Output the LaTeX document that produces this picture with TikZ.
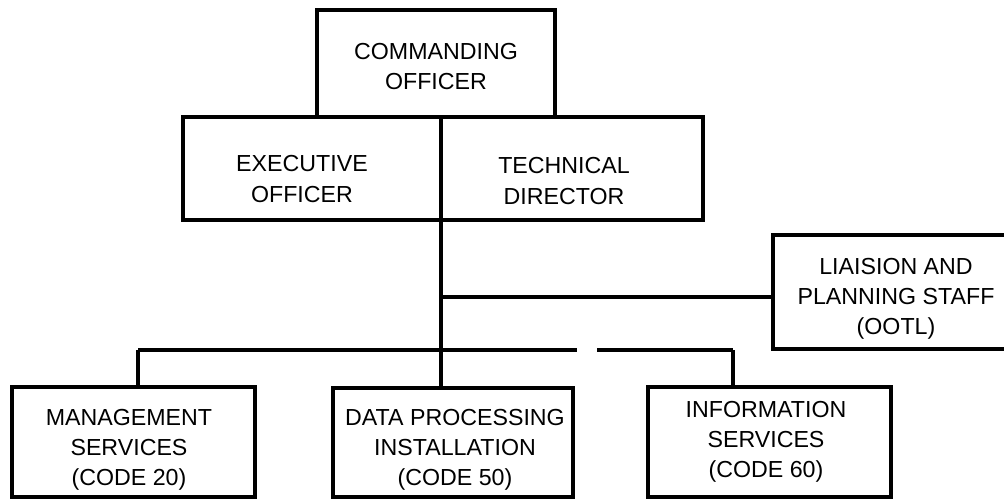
\documentclass[tikz,border=0pt]{standalone}
\usepackage{fontspec}
\setmainfont{Liberation Sans}
\begin{document}
\begin{tikzpicture}[x=0.025cm,y=-0.025cm,
  box/.style={draw=black,line width=2.2pt,rectangle,inner sep=0pt,fill=none},
  txt/.style={inner sep=0pt,align=center,font=\fontsize{16.5}{21.5}\selectfont},
  conn/.style={draw=black,line width=2.2pt}]
\useasboundingbox (0,0) rectangle (1004,500);
\fill[white] (0,0) rectangle (1004,500);
% boxes
\node[box,minimum width=238*0.025cm,minimum height=107*0.025cm] (co) at (436,63.5) {};
\node[box,minimum width=520*0.025cm,minimum height=103*0.025cm] (et) at (443,168.5) {};
\node[box,minimum width=237*0.025cm,minimum height=114*0.025cm] (li) at (891.5,292) {};
\node[box,minimum width=243*0.025cm,minimum height=110*0.025cm] (mg) at (133.5,442) {};
\node[box,minimum width=240*0.025cm,minimum height=109*0.025cm] (dp) at (453,442.5) {};
\node[box,minimum width=243*0.025cm,minimum height=110*0.025cm] (in) at (769.5,442) {};
% texts
\node[txt] (coT) at (436,66.5) {COMMANDING\\OFFICER};
\node[txt] (exT) at (302,179) {EXECUTIVE\\OFFICER};
\node[txt] (tdT) at (564,181) {TECHNICAL\\DIRECTOR};
\node[txt] (liT) at (896,299) {LIAISION AND\\PLANNING STAFF\\(OOTL)};
\node[txt] (mgT) at (129,450) {MANAGEMENT\\SERVICES\\(CODE 20)};
\node[txt] (dpT) at (455,450) {DATA PROCESSING\\INSTALLATION\\(CODE 50)};
\node[txt] (inT) at (766,442) {INFORMATION\\SERVICES\\(CODE 60)};
% connectors
\coordinate (trunkTop) at (441,117);
\coordinate (lj) at (441,297);
\coordinate (bl) at (138,350);
\coordinate (br) at (733,350);
\coordinate (gapL) at (577,350);
\coordinate (gapR) at (597,350);
\draw[conn] (trunkTop) -- (trunkTop |- dp.north);
\draw[conn] (lj) -- (lj -| li.west);
\draw[conn] (bl) -- (gapL);
\draw[conn] (gapR) -- (br);
\draw[conn] (bl) -- (bl |- mg.north);
\draw[conn] (br) -- (br |- in.north);
\end{tikzpicture}
\end{document}
